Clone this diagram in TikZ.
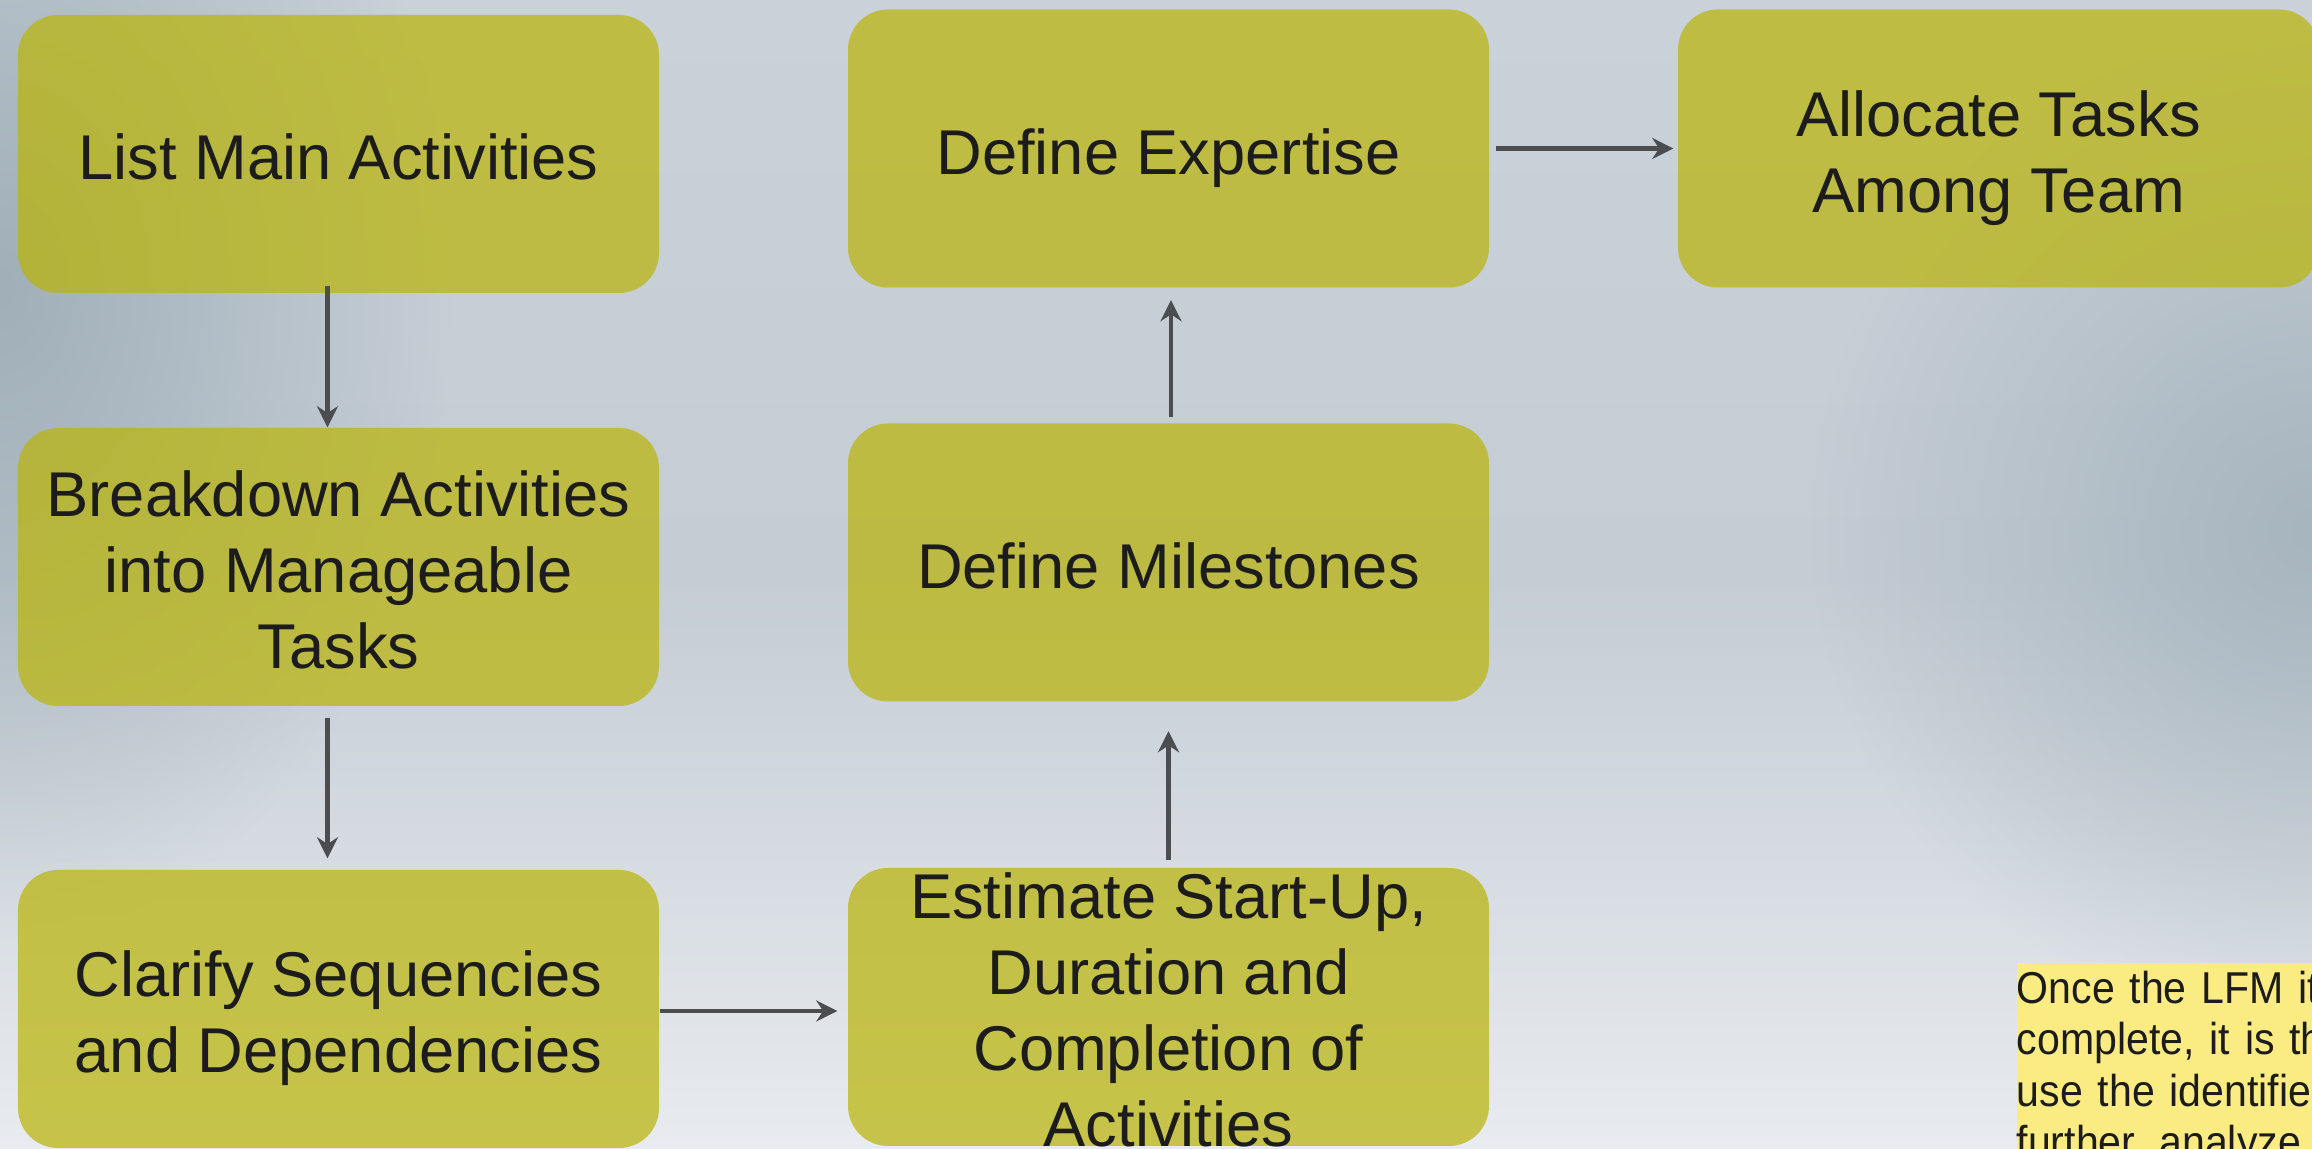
\documentclass[tikz,border=0pt]{standalone}
\usepackage{fontspec}
\setmainfont{Liberation Sans}
\newfontfamily\notefont[FakeStretch=0.92]{Liberation Sans}
\usetikzlibrary{arrows.meta,fadings}
\definecolor{boxolive}{HTML}{BAB407}
\definecolor{arrowgray}{HTML}{4B4D50}
\definecolor{notefill}{HTML}{FAEC82}
\definecolor{bgtop}{HTML}{C9D1D9}
\definecolor{bgmid}{HTML}{C4CCD4}
\definecolor{bgbot}{HTML}{E8EBEF}
\definecolor{bgedge}{HTML}{A0AFB8}
\definecolor{textdark}{HTML}{1C1C1C}
\tikzfading[name=softspot, inner color=transparent!0, outer color=transparent!100]

\begin{document}
\begin{tikzpicture}[
  stepbox/.style={fill=boxolive, fill opacity=0.71, rounded corners=0.4cm,
    minimum width=6.41cm, minimum height=2.78cm, inner sep=0pt},
  % text is set by the baseline of its last line
  steptext/.style={inner sep=0pt, anchor=base, align=center, text=textdark,
    font=\fontsize{18}{21.6}\selectfont},
  flow/.style={arrowgray, line width=1.15pt, -{Stealth[length=6pt,width=6pt]}},
  notebox/.style={fill=notefill, inner xsep=0pt, inner ysep=2.4pt, text width=6cm,
    align=left, text=textdark, font=\notefont\fontsize{12.7}{14.65}\selectfont}
]
\useasboundingbox (0,0) rectangle (23.12,11.49);
\clip (0,0) rectangle (23.12,11.49);

% Background
\shade[top color=bgtop, bottom color=bgbot, middle color=bgmid] (0,0) rectangle (23.12,11.49);
\fill[bgedge, path fading=softspot] (0,8.6) ellipse (4.5cm and 6.5cm);
\fill[bgedge!80!bgmid, path fading=softspot] (23.12,6.2) ellipse (5cm and 5cm);

% Left column
\node[stepbox] (list) at (3.385,9.95) {};
\node[stepbox] (brk) at (3.385,5.82) {};
\node[stepbox] (seq) at (3.385,1.40) {};
\node[steptext] (listtext) at ([yshift=-7.3pt]list.center) {List Main Activities};
\node[steptext] (brktext) at ([yshift=-28.9pt]brk.center) {Breakdown Activities\\into Manageable\\Tasks};
\node[steptext] (seqtext) at ([yshift=-18.1pt]seq.center) {Clarify Sequencies\\and Dependencies};

% Middle column
\node[stepbox] (est) at (11.685,1.42) {};
\node[stepbox] (mil) at (11.685,5.865) {};
\node[stepbox] (expt) at (11.685,10.005) {};
\node[steptext] (esttext) at ([yshift=-39.7pt]est.center) {Estimate Start-Up,\\Duration and\\Completion of\\Activities};
\node[steptext] (miltext) at ([yshift=-7.3pt]mil.center) {Define Milestones};
\node[steptext] (expttext) at ([yshift=-7.3pt]expt.center) {Define Expertise};

% Right column
\node[stepbox] (alloc) at (19.985,10.005) {};
\node[steptext] (alloctext) at ([yshift=-18.1pt]alloc.center) {Allocate Tasks\\Among Team};

% Note
\node[notebox, anchor=north west] (note) at (20.16,1.87) {Once the LFM itself is\\complete, it is then time to\\use the identified activities to\\further, analyze};

% Flow arrows
\draw[flow, shorten <=-0.8mm] ([xshift=-1.1mm]list.south) -- ([xshift=-1.1mm]brk.north);
\draw[flow, shorten <=1.1mm, shorten >=1.1mm] ([xshift=-1.1mm]brk.south) -- ([xshift=-1.1mm]seq.north);
\draw[flow, shorten >=1mm] ([yshift=-0.2mm]seq.east) -- ([yshift=-0.2mm]seq.east -| est.west);
\draw[flow, shorten <=0.7mm, shorten >=2.9mm] (est.north) -- (mil.south);
\draw[flow, shorten <=0.6mm, shorten >=1.2mm] ([xshift=0.25mm]mil.north) -- ([xshift=0.25mm]expt.south);
\draw[flow, shorten <=0.6mm, shorten >=0.4mm] (expt.east) -- (alloc.west);
\end{tikzpicture}
\end{document}
